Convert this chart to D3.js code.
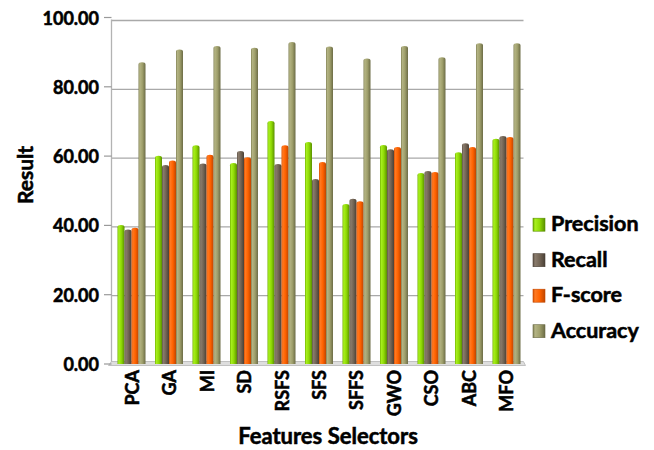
<!DOCTYPE html>
<html>
<head>
<meta charset="utf-8">
<script src="https://cdn.jsdelivr.net/npm/d3@7"></script>
<style>
  html, body { margin: 0; padding: 0; background: #ffffff; }
  svg { display: block; }
  text { font-family: Lato, "Open Sans", sans-serif; font-weight: bold; fill: #000;
         stroke: #000; stroke-width: 0.55px; paint-order: stroke; }
</style>
</head>
<body>
<svg id="chart" width="654" height="450"></svg>
<script>
// Feature selector comparison
const categories = ["PCA", "GA", "MI", "SD", "RSFS", "SFS", "SFFS", "GWO", "CSO", "ABC", "MFO"];
const seriesNames = ["Precision", "Recall", "F-score", "Accuracy"];
const precision = [40.1, 60.1, 63.1, 58.0, 70.1, 64.1, 46.2, 63.2, 55.1, 61.1, 65.0];
const recall    = [38.8, 57.4, 57.9, 61.5, 57.7, 53.4, 47.7, 62.0, 55.7, 63.7, 65.8];
const fscore    = [39.3, 58.7, 60.4, 59.7, 63.1, 58.3, 47.0, 62.6, 55.4, 62.6, 65.5];
const accuracy  = [87.1, 90.8, 91.8, 91.3, 92.9, 91.6, 88.2, 91.8, 88.5, 92.6, 92.6];
const yTicks = [0, 20, 40, 60, 80, 100];

const seriesValues = [precision, recall, fscore, accuracy];

// colour ramps per series: edge, highlight, body, shadow
const palette = {
  "Precision": ["#6fae00", "#a8f01e", "#8fda04", "#5a9000"],
  "Recall":    ["#5e5246", "#8a7c6d", "#736555", "#4a4036"],
  "F-score":   ["#d85000", "#ff7a22", "#ff6200", "#c04600"],
  "Accuracy":  ["#7e7e52", "#b4b484", "#a0a06c", "#6c6c46"]
};

const svg = d3.select("#chart");

const wallLeft = 111.5, wallRight = 523.5;
const y = d3.scaleLinear().domain([0, 100]).range([364, 17.5]);
const yWall = d3.scaleLinear().domain([0, 100]).range([364.5, 20.5]);

const x = d3.scaleBand().domain(categories)
  .range([112.75, 525.25]).paddingInner(0.2533).paddingOuter(0.1267);
const xs = d3.scaleBand().domain(seriesNames).range([0, x.bandwidth()]);

// gradients
const defs = svg.append("defs");
seriesNames.forEach((s, i) => {
  const c = palette[s];
  const g = defs.append("linearGradient").attr("id", "grad" + i)
    .attr("x1", "0").attr("x2", "1").attr("y1", "0").attr("y2", "0");
  g.append("stop").attr("offset", "0%").attr("stop-color", c[0]);
  g.append("stop").attr("offset", "18%").attr("stop-color", c[1]);
  g.append("stop").attr("offset", "55%").attr("stop-color", c[2]);
  g.append("stop").attr("offset", "100%").attr("stop-color", c[3]);
});

// back wall gridlines
svg.append("g").selectAll("line").data(yTicks.filter(t => t > 0)).join("line")
  .attr("x1", wallLeft).attr("x2", wallRight)
  .attr("y1", d => yWall(d)).attr("y2", d => yWall(d))
  .attr("stroke", "#a9a9a9").attr("stroke-width", 1.3);

// left wall edge
svg.append("line")
  .attr("x1", wallLeft).attr("x2", wallLeft)
  .attr("y1", yWall(100) - 1).attr("y2", y(0))
  .attr("stroke", "#b3b3b3").attr("stroke-width", 1.3);

// floor
svg.append("path")
  .attr("d", `M${wallLeft},${y(0) - 2.5} L${wallRight},${y(0) - 2.5} L${wallRight + 2},${y(0) + 1.5} L${wallLeft - 3},${y(0) + 1.5} Z`)
  .attr("fill", "#dedede").attr("stroke", "#b5b5b5").attr("stroke-width", 0.8);

// y axis ticks and labels
const yAxis = svg.append("g");
yAxis.selectAll("line").data(yTicks).join("line")
  .attr("x1", 104).attr("x2", wallLeft)
  .attr("y1", d => y(d)).attr("y2", d => y(d))
  .attr("stroke", "#9a9a9a").attr("stroke-width", 1.2);
yAxis.selectAll("text").data(yTicks).join("text")
  .attr("x", 99).attr("y", d => y(d))
  .attr("text-anchor", "end").attr("dominant-baseline", "central")
  .style("font-size", "18px")
  .text(d => d3.format(".2f")(d));

// bars
const barPath = (x0, w, top, base) => {
  const r = w / 2, ry = 2.2;
  return `M${x0},${base} L${x0},${top + ry} A${r},${ry} 0 0 1 ${x0 + w},${top + ry} L${x0 + w},${base} Z`;
};
const groups = svg.append("g").selectAll("g").data(categories).join("g")
  .attr("transform", d => `translate(${x(d)},0)`);
groups.selectAll("path")
  .data((d, ci) => seriesNames.map((s, si) => ({ s, si, v: seriesValues[si][ci] })))
  .join("path")
  .attr("d", d => barPath(xs(d.s), xs.bandwidth(), y(d.v), y(0)))
  .attr("fill", d => `url(#grad${d.si})`);

// category labels
svg.append("g").selectAll("text").data(categories).join("text")
  .attr("transform", d => `translate(${x(d) + x.bandwidth() / 2},370) rotate(-90)`)
  .attr("text-anchor", "end").attr("dominant-baseline", "central")
  .style("font-size", "18px")
  .text(d => d);

// axis titles
svg.append("text")
  .attr("x", 328).attr("y", 444)
  .attr("text-anchor", "middle")
  .style("font-size", "22px")
  .text("Features Selectors");
svg.append("text")
  .attr("transform", "translate(33,175) rotate(-90)")
  .attr("text-anchor", "middle")
  .style("font-size", "21px")
  .text("Result");

// legend
const legend = svg.append("g").selectAll("g").data(seriesNames).join("g")
  .attr("transform", (d, i) => `translate(533,${224.7 + i * 35.5})`);
legend.append("rect")
  .attr("x", 0).attr("y", -6.5).attr("width", 12).attr("height", 13)
  .attr("fill", (d, i) => `url(#grad${i})`)
  .attr("stroke", (d) => palette[d][3]).attr("stroke-width", 0.6);
legend.append("text")
  .attr("x", 18).attr("y", 6.5)
  .style("font-size", "21.5px")
  .text(d => d);
</script>
</body>
</html>
